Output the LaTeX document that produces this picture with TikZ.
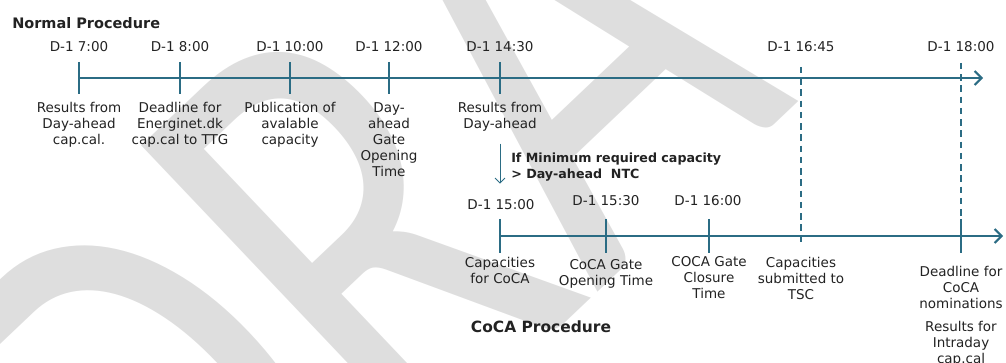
\documentclass[tikz,border=0pt]{standalone}
\usepackage{fontspec}
\setmainfont{DejaVu Sans}
\newfontfamily\filigrana{Carlito}
\usetikzlibrary{arrows.meta}
\definecolor{asse}{HTML}{2B6C84}
\definecolor{grigio}{HTML}{DEDEDE}
\definecolor{testo}{HTML}{222222}
\newcommand{\piccolo}{\fontsize{9.6}{11.4}\selectfont}
\newcommand{\grassetto}{\fontsize{10.3}{11.4}\selectfont\bfseries}

\begin{document}
\begin{tikzpicture}[
			linea/.style={line width=1.4pt, asse},
			tacca/.style={line width=1.4pt, asse},
			tratt/.style={line width=1.4pt, asse, dash pattern=on 4.5pt off 3.5pt},
			punta/.style={-{Straight Barb[length=5pt,width=10pt,line width=1.4pt]}},
			freccia/.style={line width=0.7pt, asse,
				-{Straight Barb[length=3.5pt,width=7pt,line width=0.7pt]}},
			ora/.style={font=\piccolo, text=testo, anchor=base, inner sep=0pt},
			etich/.style={font=\piccolo, text=testo, align=center, anchor=north, inner sep=0pt},
			tit/.style={font=\grassetto, text=testo, inner sep=0pt},
			]
			\useasboundingbox (0,0) rectangle (25.15,-9.075);
			
			%% filigrana -----------------------------------------
			\begin{scope}
				\clip (0,0) rectangle (25.15,-9.075);
				\node[font=\filigrana\fontsize{345}{345}\selectfont, text=grigio,
					rotate=43.5, yscale=1.35, anchor=base west, inner sep=0pt]
				(bozza) at (4.725,-17.0) {DRA\kern0.35em FT};
			\end{scope}
			
			%% =========================================================
			%% PROCEDURA NORMALE
			%% =========================================================
			\node[tit, anchor=base west] (normale) at (0.3,-0.725) {Normal Procedure};
			\coordinate (fine1) at (24.575,-1.95);
			\foreach \i/\x/\t in {0/1.975/7:00, 1/4.5/8:00, 2/7.25/10:00, 3/9.725/12:00,
				4/12.5/14:30, 5/20.025/16:45, 6/24.025/18:00}{
				\coordinate (t\i) at (\x,-1.95);
				\node[ora] (h\i) at (\x,-1.3) {D-1 \t};}
			\draw[linea, punta](t0)--(fine1);
			\foreach \i in {0,...,4}
			\draw[tacca]([yshift=0.4cm]t\i)--([yshift=-0.4cm]t\i);
			%% etichette sotto l'asse
			\node[etich] (e0) at (1.975,-2.55) {Results from\\Day-ahead\\cap.cal.};
			\node[etich] (e1) at (4.5,-2.55) {Deadline for\\Energinet.dk\\cap.cal to TTG};
			\node[etich] (e2) at (7.25,-2.55) {Publication of\\avalable\\capacity};
			\node[etich] (e3) at (9.725,-2.55) {Day-\\ahead\\Gate\\Opening\\Time};
			\node[etich] (e4) at (12.5,-2.55) {Results from\\Day-ahead};
			
			%% =========================================================
			%% PROCEDURA CoCA
			%% =========================================================
			\coordinate (fine2) at (25.075,-5.9);
			\foreach \i/\x in {0/12.5, 1/15.15, 2/17.725, 3/24.025}
			\coordinate (u\i) at (\x,-5.9);
			\node[ora] (k0) at (12.525,-5.25) {D-1 15:00};
			\node[ora] (k1) at (15.15,-5.15) {D-1 15:30};
			\node[ora] (k2) at (17.7,-5.15) {D-1 16:00};
			\draw[linea, punta](u0)--(fine2);
			\foreach \i in {0,...,3}
			\draw[tacca]([yshift=0.425cm]u\i)--([yshift=-0.425cm]u\i);
			%% linee tratteggiate (16:45, 18:00)
			\coordinate (d1) at (20.025,-6.125);
			\coordinate (d2) at (24.025,-5.5);
			\draw[tratt]([yshift=-0.375cm]h5.base)--(d1);
			\draw[tratt]([yshift=-0.275cm]h6.base -| d2)--(d2);
			%% condizione
			\draw[freccia, shorten <=0.3cm, shorten >=0.4cm](e4.south)--(e4.south |- k0.north);
			\node[tit, font=\fontsize{9}{11.4}\selectfont\bfseries, align=left, anchor=north west]
			(cond) at (12.775,-3.825) {If Minimum required capacity\\> Day-ahead\ \ NTC};
			%% etichette sotto l'asse
			\node[etich] (f0) at (12.5,-6.425) {Capacities\\for CoCA};
			\node[etich] (f1) at (15.15,-6.475) {CoCA Gate\\Opening Time};
			\node[etich] (f2) at (17.725,-6.4) {COCA Gate\\Closure\\Time};
			\node[etich] (f3) at (20.025,-6.425) {Capacities\\submitted to\\TSC};
			\node[etich] (f4) at (24.025,-6.65) {Deadline for\\CoCA\\nominations};
			\node[etich] (f5) at (24.025,-8.025) {Results for\\Intraday\\cap.cal};
			\node[tit, font=\fontsize{11}{12}\selectfont\bfseries, anchor=base]
			(coca) at (13.525,-8.325) {CoCA Procedure};
			
	\end{tikzpicture}
\end{document}
